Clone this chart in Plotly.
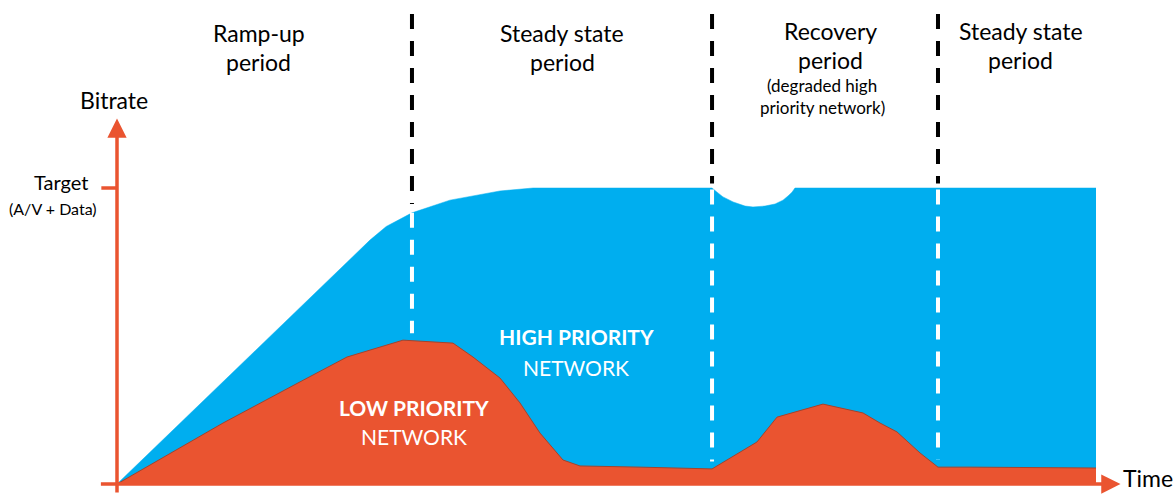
import numpy as np
import plotly.graph_objects as go

# ---------------- data ----------------
# total (high priority) achievable bitrate, in % of target, vs time (0-100)
high_t = [0.0, 18.69, 25.84, 27.5, 30.13, 34.01, 39.12, 42.5, 60.78, 61.29, 61.9, 62.93, 64.15,
          64.96, 66.19, 67.22, 68.03, 68.54, 68.95, 69.25, 100.0]
high_v = [0.0, 59.5, 82.4, 87.0, 91.6, 95.9, 99.0, 100.0, 100.0, 98.6, 97.0, 95.3, 93.9,
          93.6, 93.9, 94.6, 95.9, 97.3, 98.6, 100.0, 100.0]

# low priority network bitrate
low_t = [0.0, 10.83, 18.69, 23.49, 29.21, 34.32, 36.36, 39.12, 41.16, 43.21, 45.56, 47.29,
         53.42, 56.79, 60.78, 65.37, 67.42, 72.11, 76.20, 77.94, 79.67, 82.02, 83.86, 87.13, 100.0]
low_v = [0.0, 20.6, 34.5, 42.9, 48.6, 47.6, 42.9, 35.8, 27.4, 17.2, 8.1, 6.1,
         5.7, 5.4, 5.1, 14.2, 22.6, 27.0, 24.0, 20.6, 17.6, 10.5, 5.7, 5.7, 5.4]

period_bounds = [0.0, 30.13, 60.78, 83.86, 100.0]
period_titles = [["Ramp-up", "period"], ["Steady state", "period"],
                 ["Recovery", "period"], ["Steady state", "period"]]
recovery_note = ["(degraded high", "priority network)"]
target_value = 100.0
target_labels = ["Target", "(A/V + Data)"]
axis_titles = ["Bitrate", "Time"]
area_labels = [("HIGH PRIORITY", "NETWORK"), ("LOW PRIORITY", "NETWORK")]

# ---------------- styling ----------------
BLUE = "#00AEEF"
RED = "#EA5430"
EDGE = "#A4432C"
FONT = "Lato"

W, H = 1173, 494
X_RANGE = [-11.951, 107.865]
Y_RANGE = [-3.378, 163.514]

fig = go.Figure()
fig.add_trace(go.Scatter(x=high_t, y=high_v, mode="lines", fill="tozeroy",
                         fillcolor=BLUE, line=dict(color=BLUE, width=0.5),
                         hoverinfo="skip", showlegend=False))
fig.add_trace(go.Scatter(x=low_t, y=low_v, mode="lines", fill="tozeroy",
                         fillcolor=RED, line=dict(color=EDGE, width=1),
                         hoverinfo="skip", showlegend=False))

# period separators: black above the curve, white inside the areas
top_y = 158.8
for i, b in enumerate(period_bounds[1:-1]):
    hv = float(np.interp(b, high_t, high_v))
    lv = float(np.interp(b, low_t, low_v))
    fig.add_shape(type="line", x0=b, x1=b, y0=top_y, y1=hv + 1.5 + (1.5 if i == 0 else 0),
                  line=dict(color="black", width=4, dash="15px,12px"), layer="above")
    fig.add_shape(type="line", x0=b, x1=b, y0=hv - 0.5 if i else hv, y1=lv + 2.5,
                  line=dict(color="white", width=4, dash="15px,12px"), layer="above")

# axes (arrows)
fig.add_annotation(x=0, y=123.5, ax=0, ay=-3.4, xref="x", yref="y", axref="x", ayref="y",
                   text="", showarrow=True, arrowhead=2, arrowsize=1.1, arrowwidth=3.5,
                   arrowcolor=RED)
fig.add_annotation(x=102.5, y=0, ax=-1.8, ay=0, xref="x", yref="y", axref="x", ayref="y",
                   text="", showarrow=True, arrowhead=2, arrowsize=1.1, arrowwidth=3.5,
                   arrowcolor=RED)
# target tick
fig.add_shape(type="line", x0=-1.6, x1=0, y0=target_value, y1=target_value,
              line=dict(color=RED, width=3.5), layer="above")


def txt(x, y, s, size, color="black", bold=False, xref="x", yref="y", xanchor="center"):
    fig.add_annotation(x=x, y=y, xref=xref, yref=yref, text=f"<b>{s}</b>" if bold else s,
                       showarrow=False, xanchor=xanchor, yanchor="middle",
                       font=dict(family=FONT, size=size, color=color))


def py(p):  # pixel row -> paper y
    return 1 - p / H


# period titles
offsets = [-0.6, 0.0, 0.6, 0.4]
for k, (title, off) in enumerate(zip(period_titles, offsets)):
    cx = (period_bounds[k] + period_bounds[k + 1]) / 2 + off
    dy = -2 if k >= 2 else 0
    txt(cx, py(33 + dy), title[0], 23, yref="paper")
    txt(cx, py(62 + dy), title[1], 23, yref="paper")
mid_rec = (period_bounds[2] + period_bounds[3]) / 2 - 0.3
txt(mid_rec, py(86), recovery_note[0], 17, yref="paper")
txt(mid_rec, py(107), recovery_note[1], 17, yref="paper")

# axis labels
txt(-0.3, py(100), axis_titles[0], 23, yref="paper")
txt(102.6, py(478), axis_titles[1], 23, yref="paper", xanchor="left")
txt(-5.7, py(182), target_labels[0], 20, yref="paper")
txt(-6.5, py(208), target_labels[1], 16, yref="paper")

# area labels
txt(46.9, py(336), area_labels[0][0], 21, color="white", bold=True, yref="paper")
txt(46.9, py(367), area_labels[0][1], 21, color="white", yref="paper")
txt(30.3, py(407), area_labels[1][0], 21, color="white", bold=True, yref="paper")
txt(30.3, py(436), area_labels[1][1], 21, color="white", yref="paper")

fig.update_layout(width=W, height=H, margin=dict(l=0, r=0, t=0, b=0),
                  paper_bgcolor="white", plot_bgcolor="white",
                  xaxis=dict(range=X_RANGE, visible=False, fixedrange=True),
                  yaxis=dict(range=Y_RANGE, visible=False, fixedrange=True),
                  showlegend=False)
fig.write_html("out.html", config={"displayModeBar": False},
               post_script="document.body.style.margin='0';document.body.style.overflow='hidden';")
